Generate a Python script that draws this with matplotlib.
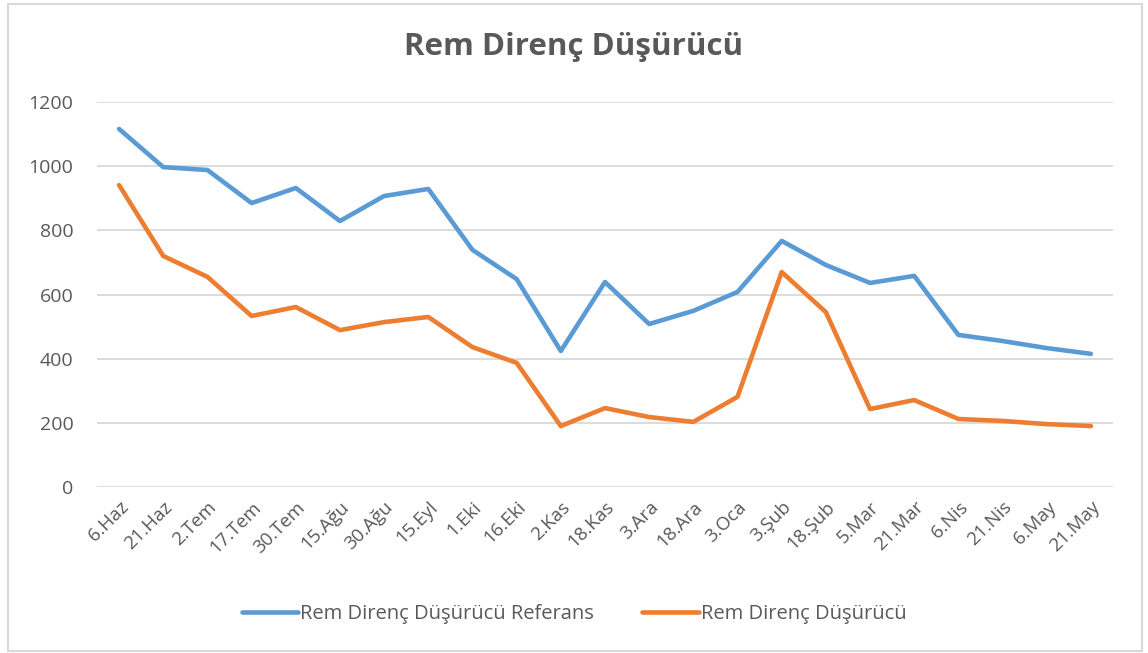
import matplotlib
matplotlib.use("Agg")
import matplotlib.pyplot as plt
from matplotlib.patches import Rectangle

# dates and measured values
dates = ['6.Haz', '21.Haz', '2.Tem', '17.Tem', '30.Tem', '15.Ağu', '30.Ağu', '15.Eyl',
         '1.Eki', '16.Eki', '2.Kas', '18.Kas', '3.Ara', '18.Ara', '3.Oca', '3.Şub',
         '18.Şub', '5.Mar', '21.Mar', '6.Nis', '21.Nis', '6.May', '21.May']
referans = [1116, 997, 988, 885, 932, 829, 907, 929, 739, 648, 424, 639, 508, 549,
            608, 767, 692, 636, 658, 474, 455, 433, 415]
dusurucu = [941, 720, 655, 533, 561, 489, 514, 530, 436, 387, 190, 246, 218, 203,
            281, 670, 545, 243, 271, 212, 206, 196, 190]
y_ticks = [0, 200, 400, 600, 800, 1000, 1200]

grey = '#595959'
plt.rcParams['font.family'] = ['Open Sans', 'DejaVu Sans']

fig = plt.figure(figsize=(11.48, 6.53), dpi=100)
ax = fig.add_axes([0.0845, 0.2542, 0.885, 0.5896])

x = list(range(len(dates)))
ax.plot(x, referans, color='#5B9BD5', lw=3.3, solid_joinstyle='round',
        solid_capstyle='round', label='Rem Direnç Düşürücü Referans')
ax.plot(x, dusurucu, color='#ED7D31', lw=3.3, solid_joinstyle='round',
        solid_capstyle='round', label='Rem Direnç Düşürücü')

ax.set_xlim(-0.5, len(dates) - 0.5)
ax.set_ylim(0, 1200)
ax.set_yticks(y_ticks)
ax.set_yticklabels([str(v) for v in y_ticks], fontsize=14, color=grey)
ax.set_xticks(x)
ax.set_xticklabels(dates, rotation=45, ha='right', rotation_mode='anchor',
                   fontsize=13.5, color=grey)
ax.tick_params(length=0, pad=8)
ax.tick_params(axis='y', pad=17)
ax.grid(axis='y', color='#D9D9D9', lw=1.3)
ax.set_axisbelow(True)
for s in ax.spines.values():
    s.set_visible(False)

fig.text(0.5, 0.928, 'Rem Direnç Düşürücü', ha='center', va='center',
         fontsize=22.5, fontweight='bold', color=grey)

leg = fig.legend(loc='center', bbox_to_anchor=(0.5, 0.059), ncol=2, frameon=False,
                 fontsize=14.5, handlelength=2.8, handletextpad=0.1, columnspacing=2.4)
for t in leg.get_texts():
    t.set_color(grey)

fig.patches.append(Rectangle((8 / 1148, 2 / 653), 1134 / 1148, 647 / 653,
                             transform=fig.transFigure, fill=False,
                             edgecolor='#D9D9D9', lw=1.5))

fig.savefig('out.png', dpi=100, facecolor='white')
